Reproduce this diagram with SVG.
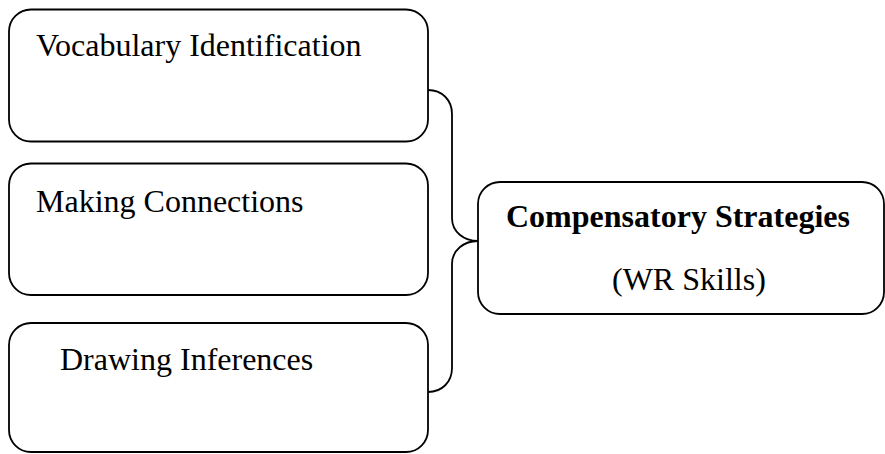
<svg xmlns="http://www.w3.org/2000/svg" width="885" height="454" viewBox="0 0 885 454">
<style>
.box{fill:#fff;stroke:#000;stroke-width:1.8}
.conn{fill:none;stroke:#000;stroke-width:1.8}
.t{font-family:"Liberation Serif","Times New Roman",serif;font-size:32px;fill:#000}
.b{font-weight:bold}
</style>
<rect width="885" height="454" fill="#fff"/>
<g id="connectors">
<path class="conn" d="M428,90 C442,90 452,100 452,114 L452,218 C452,232 464,241 478,241 C464,241 452,250 452,264 L452,368 C452,382 442,392 428,392"/>
</g>
<g id="node-vocab">
<rect class="box" x="9" y="9.5" width="419" height="132" rx="22" ry="22"/>
<text class="t" x="36" y="56">Vocabulary Identification</text>
</g>
<g id="node-connections">
<rect class="box" x="9" y="163.5" width="419" height="131.5" rx="22" ry="22"/>
<text class="t" x="36" y="212">Making Connections</text>
</g>
<g id="node-inferences">
<rect class="box" x="9" y="323" width="419" height="129" rx="22" ry="22"/>
<text class="t" x="60" y="370">Drawing Inferences</text>
</g>
<g id="node-compensatory">
<rect class="box" x="478" y="182" width="406" height="132" rx="22" ry="22"/>
<text class="t b" x="506" y="227">Compensatory Strategies</text>
<text class="t" x="612" y="290">(WR Skills)</text>
</g>
</svg>
